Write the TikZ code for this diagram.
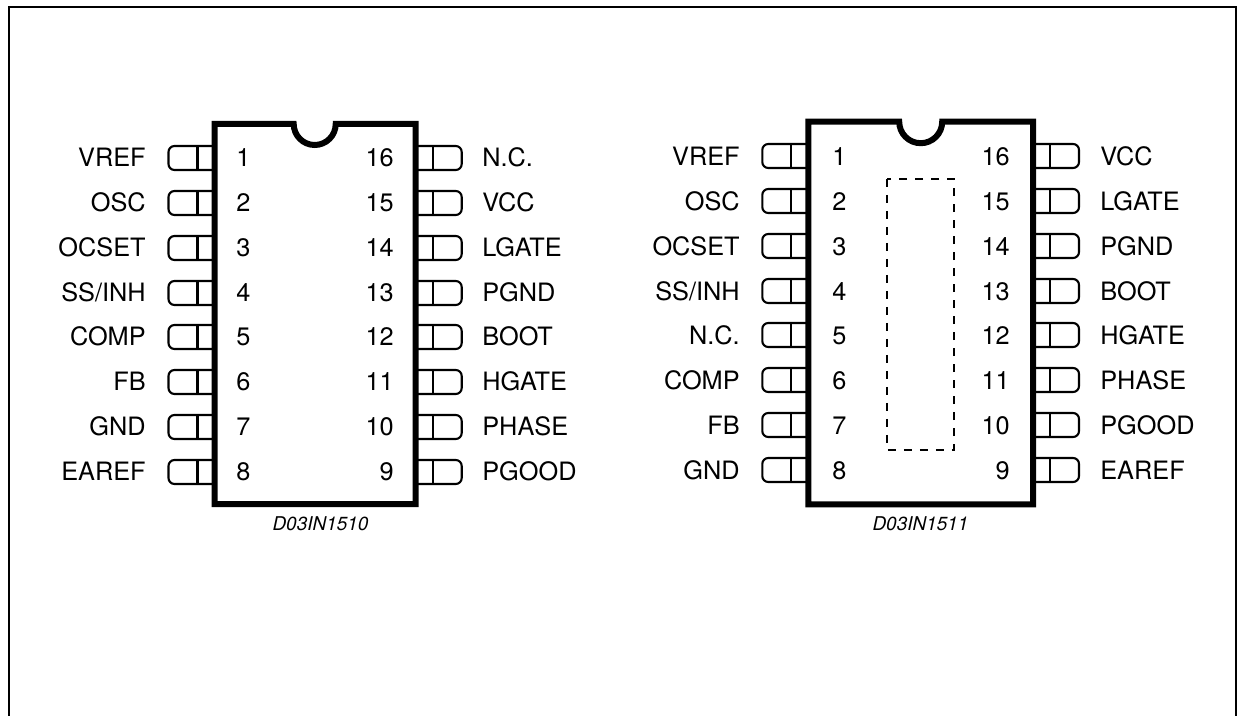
\documentclass[tikz,border=0pt]{standalone}
\usepackage{fontspec}
\setmainfont{TeX Gyre Heros}
\tikzset{
  pinname/.style={inner sep=0, font=\fontsize{14.4pt}{16pt}\selectfont},
  pinno/.style={inner sep=0, font=\fontsize{14.4pt}{16pt}\selectfont},
  caption/.style={inner sep=0, font=\fontsize{10.8pt}{12pt}\selectfont\itshape},
  body/.style={line width=1.2mm, miter limit=10},
  lpin/.pic={
    \draw[line width=0.42mm, rounded corners=0.12cm] (0,-12) -- (-46,-12) -- (-46,12) -- (0,12);
    \draw[line width=0.42mm] (-17,-12) -- (-17,12);
  },
  rpin/.pic={
    \draw[line width=0.42mm, rounded corners=0.12cm] (0,-12) -- (46,-12) -- (46,12) -- (0,12);
    \draw[line width=0.42mm] (17,-12) -- (17,12);
  },
}
\begin{document}
\begin{tikzpicture}[x=0.02cm, y=-0.02cm]
  \useasboundingbox (0,0) rectangle (1240,716);

  % outer frame, open at the bottom
  \draw[line width=0.4mm] (9,716) -- (9,6.7) -- (1235.7,6.7) -- (1235.7,716);

  % left package
  \pic at (214.5,158) {lpin};
  \pic at (214.5,203) {lpin};
  \pic at (214.5,248) {lpin};
  \pic at (214.5,293) {lpin};
  \pic at (214.5,337) {lpin};
  \pic at (214.5,382) {lpin};
  \pic at (214.5,427) {lpin};
  \pic at (214.5,472) {lpin};
  \pic at (415.7,158) {rpin};
  \pic at (415.7,203) {rpin};
  \pic at (415.7,248) {rpin};
  \pic at (415.7,293) {rpin};
  \pic at (415.7,337) {rpin};
  \pic at (415.7,382) {rpin};
  \pic at (415.7,427) {rpin};
  \pic at (415.7,472) {rpin};
  \draw[body, fill=white] (214.5,124) -- (293.7,124) arc (180:0:21) -- (415.7,124) -- (415.7,504) -- (214.5,504) -- cycle;

  \node [pinname, anchor=base east](a1) at (146,166.5) {VREF};
  \node [pinname, anchor=base east](a2) at (146,211.5) {OSC};
  \node [pinname, anchor=base east](a3) at (146,256.5) {OCSET};
  \node [pinname, anchor=base east](a4) at (146,301.5) {SS/INH};
  \node [pinname, anchor=base east](a5) at (146,345.5) {COMP};
  \node [pinname, anchor=base east](a6) at (146,390.5) {FB};
  \node [pinname, anchor=base east](a7) at (146,435.5) {GND};
  \node [pinname, anchor=base east](a8) at (146,480.5) {EAREF};
  \node [pinname, anchor=base west](a16) at (482,166.5) {N.C.};
  \node [pinname, anchor=base west](a15) at (482,211.5) {VCC};
  \node [pinname, anchor=base west](a14) at (482,256.5) {LGATE};
  \node [pinname, anchor=base west](a13) at (482,301.5) {PGND};
  \node [pinname, anchor=base west](a12) at (482,345.5) {BOOT};
  \node [pinname, anchor=base west](a11) at (482,390.5) {HGATE};
  \node [pinname, anchor=base west](a10) at (482,435.5) {PHASE};
  \node [pinname, anchor=base west](a9) at (482,480.5) {PGOOD};

  \node [pinno, anchor=base west](an1) at (236,166.5) {1};
  \node [pinno, anchor=base west](an2) at (236,211.5) {2};
  \node [pinno, anchor=base west](an3) at (236,256.5) {3};
  \node [pinno, anchor=base west](an4) at (236,301.5) {4};
  \node [pinno, anchor=base west](an5) at (236,345.5) {5};
  \node [pinno, anchor=base west](an6) at (236,390.5) {6};
  \node [pinno, anchor=base west](an7) at (236,435.5) {7};
  \node [pinno, anchor=base west](an8) at (236,480.5) {8};
  \node [pinno, anchor=base east](an16) at (394,166.5) {16};
  \node [pinno, anchor=base east](an15) at (394,211.5) {15};
  \node [pinno, anchor=base east](an14) at (394,256.5) {14};
  \node [pinno, anchor=base east](an13) at (394,301.5) {13};
  \node [pinno, anchor=base east](an12) at (394,345.5) {12};
  \node [pinno, anchor=base east](an11) at (394,390.5) {11};
  \node [pinno, anchor=base east](an10) at (394,435.5) {10};
  \node [pinno, anchor=base east](an9) at (394,480.5) {9};

  \node [caption, anchor=base](acap) at (320.5,530.5) {D03IN1510};

  % right package
  \pic at (808.3,156) {lpin};
  \pic at (808.3,201) {lpin};
  \pic at (808.3,246) {lpin};
  \pic at (808.3,291) {lpin};
  \pic at (808.3,335) {lpin};
  \pic at (808.3,380) {lpin};
  \pic at (808.3,425) {lpin};
  \pic at (808.3,470) {lpin};
  \pic at (1033,156) {rpin};
  \pic at (1033,201) {rpin};
  \pic at (1033,246) {rpin};
  \pic at (1033,291) {rpin};
  \pic at (1033,335) {rpin};
  \pic at (1033,380) {rpin};
  \pic at (1033,425) {rpin};
  \pic at (1033,470) {rpin};
  \draw[body, fill=white] (808.3,121.7) -- (899.2,121.7) arc (180:0:21.5) -- (1033,121.7) -- (1033,504.4) -- (808.3,504.4) -- cycle;
  \draw[line width=0.25mm, dash pattern=on 0.16cm off 0.16cm] (887,179) rectangle (954,450);

  \node [pinname, anchor=base east](b1) at (740,165.5) {VREF};
  \node [pinname, anchor=base east](b2) at (740,210.5) {OSC};
  \node [pinname, anchor=base east](b3) at (740,255.5) {OCSET};
  \node [pinname, anchor=base east](b4) at (740,300.5) {SS/INH};
  \node [pinname, anchor=base east](b5) at (740,344.5) {N.C.};
  \node [pinname, anchor=base east](b6) at (740,389.5) {COMP};
  \node [pinname, anchor=base east](b7) at (740,434.5) {FB};
  \node [pinname, anchor=base east](b8) at (740,479.5) {GND};
  \node [pinname, anchor=base west](b16) at (1100,165.5) {VCC};
  \node [pinname, anchor=base west](b15) at (1100,210.5) {LGATE};
  \node [pinname, anchor=base west](b14) at (1100,255.5) {PGND};
  \node [pinname, anchor=base west](b13) at (1100,300.5) {BOOT};
  \node [pinname, anchor=base west](b12) at (1100,344.5) {HGATE};
  \node [pinname, anchor=base west](b11) at (1100,389.5) {PHASE};
  \node [pinname, anchor=base west](b10) at (1100,434.5) {PGOOD};
  \node [pinname, anchor=base west](b9) at (1100,479.5) {EAREF};

  \node [pinno, anchor=base west](bn1) at (832,165.5) {1};
  \node [pinno, anchor=base west](bn2) at (832,210.5) {2};
  \node [pinno, anchor=base west](bn3) at (832,255.5) {3};
  \node [pinno, anchor=base west](bn4) at (832,300.5) {4};
  \node [pinno, anchor=base west](bn5) at (832,344.5) {5};
  \node [pinno, anchor=base west](bn6) at (832,389.5) {6};
  \node [pinno, anchor=base west](bn7) at (832,434.5) {7};
  \node [pinno, anchor=base west](bn8) at (832,479.5) {8};
  \node [pinno, anchor=base east](bn16) at (1010,165.5) {16};
  \node [pinno, anchor=base east](bn15) at (1010,210.5) {15};
  \node [pinno, anchor=base east](bn14) at (1010,255.5) {14};
  \node [pinno, anchor=base east](bn13) at (1010,300.5) {13};
  \node [pinno, anchor=base east](bn12) at (1010,344.5) {12};
  \node [pinno, anchor=base east](bn11) at (1010,389.5) {11};
  \node [pinno, anchor=base east](bn10) at (1010,434.5) {10};
  \node [pinno, anchor=base east](bn9) at (1010,479.5) {9};

  \node [caption, anchor=base](bcap) at (920.5,530) {D03IN1511};
\end{tikzpicture}
\end{document}
